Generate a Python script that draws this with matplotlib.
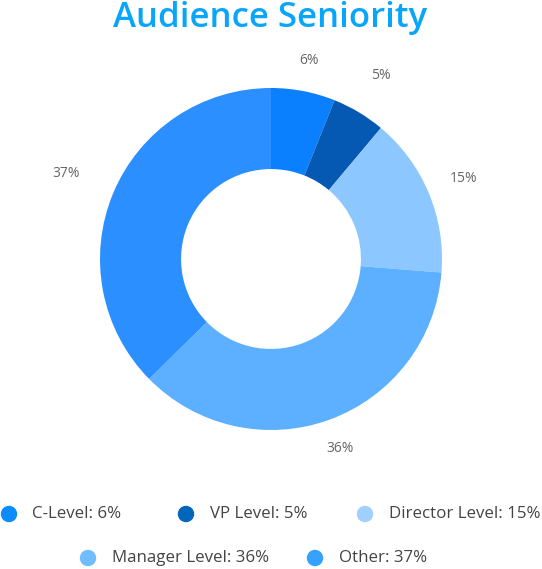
import matplotlib
matplotlib.use("Agg")
import matplotlib.pyplot as plt
import numpy as np

categories = ["C-Level", "VP Level", "Director Level", "Manager Level", "Other"]
values = [6, 5, 15, 36, 37]
slice_colors = ["#0a80ff", "#0559b3", "#8cc7ff", "#5cb0ff", "#2b8fff"]
legend_colors = ["#0a8bff", "#0066bb", "#a0d0ff", "#70bdff", "#36a2ff"]
label_dist = [1.18, 1.25, 1.22, 1.18, 1.3]

W, H = 542, 569
fig = plt.figure(figsize=(W / 100, H / 100), dpi=100)

cx, cy, r = 271, 259, 171
lim = 1.3
size = 2 * lim * r
ax = fig.add_axes([(cx - size / 2) / W, (H - cy - size / 2) / H, size / W, size / H])

labels = [f"{v}%" for v in values]
wedges, texts = ax.pie(values, colors=slice_colors, startangle=90, counterclock=False,
                       radius=1.0, labels=labels, labeldistance=1.22,
                       wedgeprops=dict(width=0.474, linewidth=0),
                       textprops=dict(fontsize=10, color="#666666", family="Open Sans"))
for w, t, d in zip(wedges, texts, label_dist):
    ang = np.deg2rad((w.theta1 + w.theta2) / 2)
    t.set_position((d * np.cos(ang), d * np.sin(ang)))
    t.set_horizontalalignment("center")
    t.set_verticalalignment("center")
ax.set_xlim(-lim, lim)
ax.set_ylim(-lim, lim)
ax.axis("off")

fig.text(270 / W, 1 - 27 / H, "Audience Seniority", ha="center", va="baseline",
         fontsize=25, color="#08a6fb", family="Open Sans", fontweight="semibold")

# legend
rows = [
    [(0, 9, 32, 514), (1, 186, 210, 514), (2, 365, 389, 514)],
    [(3, 88, 112, 558), (4, 315, 339, 558)],
]
for row in rows:
    for idx, mx, tx, y in row:
        fig.patches.append(matplotlib.patches.Ellipse((mx / W, 1 - y / H), 15 / W, 15 / H,
                                                      transform=fig.transFigure,
                                                      color=legend_colors[idx]))
        fig.text(tx / W, 1 - y / H, f"{categories[idx]}: {values[idx]}%", ha="left", va="center",
                 fontsize=12.2, color="#444444", family="Open Sans")

fig.savefig("out.png", dpi=100)
